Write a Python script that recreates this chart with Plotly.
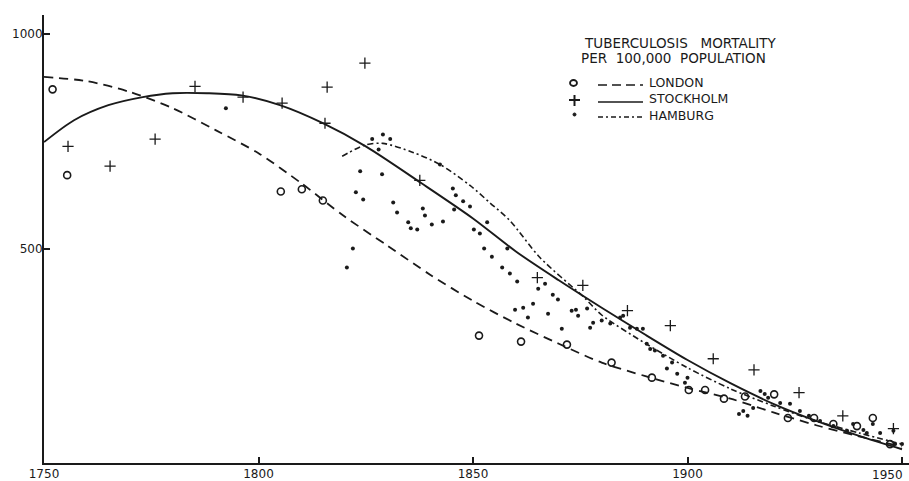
import plotly.graph_objects as go

# ---------------- data ----------------
london_years = [1752.0, 1755.4, 1805.2, 1810.1, 1815.0, 1851.4, 1861.2, 1871.9, 1882.3, 1891.7,
                1900.3, 1904.1, 1908.5, 1913.4, 1920.2, 1923.4, 1929.5, 1934.0, 1939.5, 1943.2, 1947.2]
london_vals = [871, 671, 633, 638, 612, 297, 283, 276, 234, 199,
               170, 170, 150, 155, 160, 105, 105, 91, 86, 105, 44]

stockholm_years = [1755.6, 1765.4, 1775.9, 1785.2, 1796.4, 1805.5, 1815.5, 1816.0, 1824.8, 1837.6,
                   1865.0, 1875.6, 1886.0, 1896.0, 1906.0, 1915.5, 1926.0, 1936.2, 1948.0]
stockholm_vals = [738, 692, 755, 878, 853, 839, 792, 876, 932, 659,
                  432, 414, 355, 320, 243, 217, 164, 110, 80]

hamburg_years = [1792.4, 1820.6, 1822.0, 1822.7, 1823.7, 1824.4, 1826.5, 1828.0, 1829.0, 1828.8,
                 1830.7, 1831.4, 1832.3, 1834.9, 1835.5, 1837.0, 1838.3, 1838.8, 1840.4,
                 1842.3, 1843.0, 1845.3, 1846.0, 1845.6, 1847.7, 1849.3, 1850.2, 1851.6, 1852.6,
                 1853.3, 1854.4, 1856.8, 1858.0, 1858.6, 1859.8, 1860.3, 1861.7, 1862.8, 1864.0,
                 1865.2, 1866.8, 1867.5, 1868.6, 1869.8, 1870.7, 1873.0, 1874.0, 1874.5, 1876.6,
                 1877.3, 1878.0, 1880.0, 1882.0, 1884.3, 1885.0, 1886.6, 1888.2, 1889.6, 1890.5,
                 1891.3, 1892.4, 1894.3, 1895.2, 1896.4, 1897.6, 1899.4, 1900.0, 1912.0, 1913.0,
                 1914.0, 1915.3, 1917.0, 1918.0, 1918.8, 1921.6, 1923.9, 1926.2, 1928.3, 1930.9,
                 1934.0, 1937.2, 1938.6, 1941.0, 1941.8, 1943.2, 1944.9, 1948.0, 1948.4, 1950.0]
hamburg_vals = [827, 456, 500, 631, 680, 614, 755, 731, 766, 673,
                755, 607, 584, 561, 547, 544, 593, 577, 556,
                696, 563, 640, 624, 591, 610, 598, 544, 535, 500,
                561, 481, 456, 500, 442, 357, 423, 362, 339, 371,
                406, 418, 348, 392, 381, 313, 355, 357, 343, 360,
                315, 327, 332, 325, 339, 343, 315, 313, 313, 278,
                266, 262, 250, 220, 234, 208, 187, 199, 114, 121,
                110, 128, 168, 161, 152, 140, 138, 121, 110, 98,
                86, 75, 91, 77, 70, 91, 70, 75, 44, 44]

# fitted curves (read at points along each drawn curve)
london_curve_years = [1750, 1760, 1770, 1780, 1790, 1800, 1810, 1820, 1830, 1840, 1850,
                      1860, 1870, 1880, 1890, 1900, 1910, 1920, 1930, 1940, 1950]
london_curve_vals = [900, 890, 865, 827, 776, 722, 652, 575, 507, 439, 378,
                     325, 278, 234, 203, 175, 150, 118, 88, 62, 38]

stockholm_curve_years = [1750, 1757, 1765, 1773, 1780, 1788, 1796, 1805, 1815, 1825, 1838,
                         1850, 1860, 1870, 1880, 1890, 1900, 1910, 1920, 1930, 1940, 1950]
stockholm_curve_vals = [748, 799, 834, 853, 862, 862, 857, 834, 792, 738, 652,
                        570, 493, 426, 362, 300, 240, 186, 138, 98, 63, 32]

hamburg_curve_years = [1819.5, 1824.8, 1829, 1836, 1842.3, 1849.3, 1854, 1858.6, 1865.6,
                       1876, 1880, 1890, 1900, 1910, 1920, 1930, 1940, 1950]
hamburg_curve_vals = [715, 741, 745, 724, 696, 647, 606, 565, 479,
                      385, 345, 280, 222, 173, 133, 98, 70, 44]

x_ticks = [1750, 1800, 1850, 1900, 1950]
x_ticktext = ["1750", "1800", "1850", "1900", ""]
last_x_label = "1950"          # drawn right-aligned at its tick, as in the original
y_ticks = [500, 1000]
y_ticktext = ["500", "1000"]

title_lines = ["TUBERCULOSIS\u00a0\u00a0\u00a0MORTALITY", "PER\u00a0\u00a0100,000\u00a0\u00a0POPULATION"]
series_names = ["LONDON", "STOCKHOLM", "HAMBURG"]

# ---------------- figure ----------------
INK = "#1a1a1a"
W, H = 909, 481
ML, MT, MR, MB = 44, 15, 0, 18
PW, PH = W - ML - MR, H - MT - MB


def px_x(px):
    return (px - ML) / PW


def px_y(py):
    return (H - MB - py) / PH


fig = go.Figure()

fig.add_trace(go.Scatter(x=london_curve_years, y=london_curve_vals, mode="lines",
                         line=dict(color=INK, width=1.8, dash="9px,6px", shape="spline", smoothing=0.8),
                         hoverinfo="skip"))
fig.add_trace(go.Scatter(x=stockholm_curve_years, y=stockholm_curve_vals, mode="lines",
                         line=dict(color=INK, width=1.9, shape="spline", smoothing=0.8),
                         hoverinfo="skip"))
fig.add_trace(go.Scatter(x=hamburg_curve_years, y=hamburg_curve_vals, mode="lines",
                         line=dict(color=INK, width=1.6, dash="6px,3px,2px,3px", shape="spline", smoothing=0.8),
                         hoverinfo="skip"))

fig.add_trace(go.Scatter(x=london_years, y=london_vals, mode="markers", name="LONDON",
                         marker=dict(symbol="circle-open", size=7, color=INK, line=dict(width=1.6, color=INK))))
fig.add_trace(go.Scatter(x=stockholm_years, y=stockholm_vals, mode="markers", name="STOCKHOLM",
                         marker=dict(symbol="cross-thin-open", size=8, color=INK, line=dict(width=1.3, color=INK))))
fig.add_trace(go.Scatter(x=hamburg_years, y=hamburg_vals, mode="markers", name="HAMBURG",
                         marker=dict(symbol="circle", size=4, color=INK, line=dict(width=0))))

# ---------------- legend (drawn by hand like the original) ----------------
annotations = []
font_title = dict(family="DejaVu Sans", size=13.5, color=INK)
font_legend = dict(family="DejaVu Sans", size=12.5, color=INK)
annotations.append(dict(xref="paper", yref="paper", x=px_x(680), y=px_y(43), text=title_lines[0],
                        showarrow=False, xanchor="center", yanchor="middle", font=font_title))
annotations.append(dict(xref="paper", yref="paper", x=px_x(673), y=px_y(58), text=title_lines[1],
                        showarrow=False, xanchor="center", yanchor="middle", font=font_title))
annotations.append(dict(xref="paper", yref="paper", x=px_x(647), y=px_y(99), text="<br>".join(series_names),
                        showarrow=False, xanchor="left", yanchor="middle", align="left", font=font_legend))

# last x tick label, right-aligned to its tick
annotations.append(dict(xref="x", yref="paper", x=x_ticks[-1], y=px_y(475), text=last_x_label,
                        showarrow=False, xanchor="right", yanchor="middle", xshift=3,
                        font=dict(family="DejaVu Sans", size=12, color=INK)))

shapes = []
# symbols
shapes.append(dict(type="circle", xref="paper", yref="paper",
                   x0=px_x(570), x1=px_x(577), y0=px_y(80), y1=px_y(86),
                   line=dict(color=INK, width=1.8)))
shapes.append(dict(type="line", xref="paper", yref="paper",
                   x0=px_x(569), x1=px_x(580), y0=px_y(100), y1=px_y(100), line=dict(color=INK, width=2)))
shapes.append(dict(type="line", xref="paper", yref="paper",
                   x0=px_x(574.5), x1=px_x(574.5), y0=px_y(95), y1=px_y(106), line=dict(color=INK, width=2)))
shapes.append(dict(type="circle", xref="paper", yref="paper",
                   x0=px_x(573), x1=px_x(576), y0=px_y(113), y1=px_y(116),
                   fillcolor=INK, line=dict(color=INK, width=1)))
# line samples
shapes.append(dict(type="line", xref="paper", yref="paper", x0=px_x(598), x1=px_x(643),
                   y0=px_y(85), y1=px_y(85), line=dict(color=INK, width=1.6, dash="9px,5px")))
shapes.append(dict(type="line", xref="paper", yref="paper", x0=px_x(598), x1=px_x(643),
                   y0=px_y(102), y1=px_y(102), line=dict(color=INK, width=1.6)))
shapes.append(dict(type="line", xref="paper", yref="paper", x0=px_x(598), x1=px_x(643),
                   y0=px_y(117), y1=px_y(117), line=dict(color=INK, width=1.6, dash="5px,3px,2px,3px")))

fig.update_layout(
    width=W, height=H,
    margin=dict(l=ML, r=MR, t=MT, b=MB, pad=0),
    paper_bgcolor="white", plot_bgcolor="white",
    showlegend=False,
    annotations=annotations,
    shapes=shapes,
    font=dict(family="DejaVu Sans", size=12, color=INK),
)
fig.update_xaxes(range=[1750, 1750 + PW / 4.29], showgrid=False, zeroline=False,
                 showline=True, linecolor=INK, linewidth=2,
                 ticks="inside", ticklen=6, tickwidth=1.5, tickcolor=INK,
                 tickvals=x_ticks, ticktext=x_ticktext, ticklabelstandoff=-1,
                 ticklabeloverflow="allow",
                 tickfont=dict(family="DejaVu Sans", size=12, color=INK), automargin=False)
fig.update_yaxes(range=[0, PH / 0.429], showgrid=False, zeroline=False,
                 showline=True, linecolor=INK, linewidth=2,
                 ticks="inside", ticklen=6, tickwidth=1.5, tickcolor=INK,
                 tickvals=y_ticks, ticktext=y_ticktext, ticklabelstandoff=-3,
                 ticklabeloverflow="allow",
                 tickfont=dict(family="DejaVu Sans", size=12, color=INK), automargin=False)

fig.write_html("out.html", config={"displayModeBar": False},
               post_script="document.body.style.margin='0px';")
